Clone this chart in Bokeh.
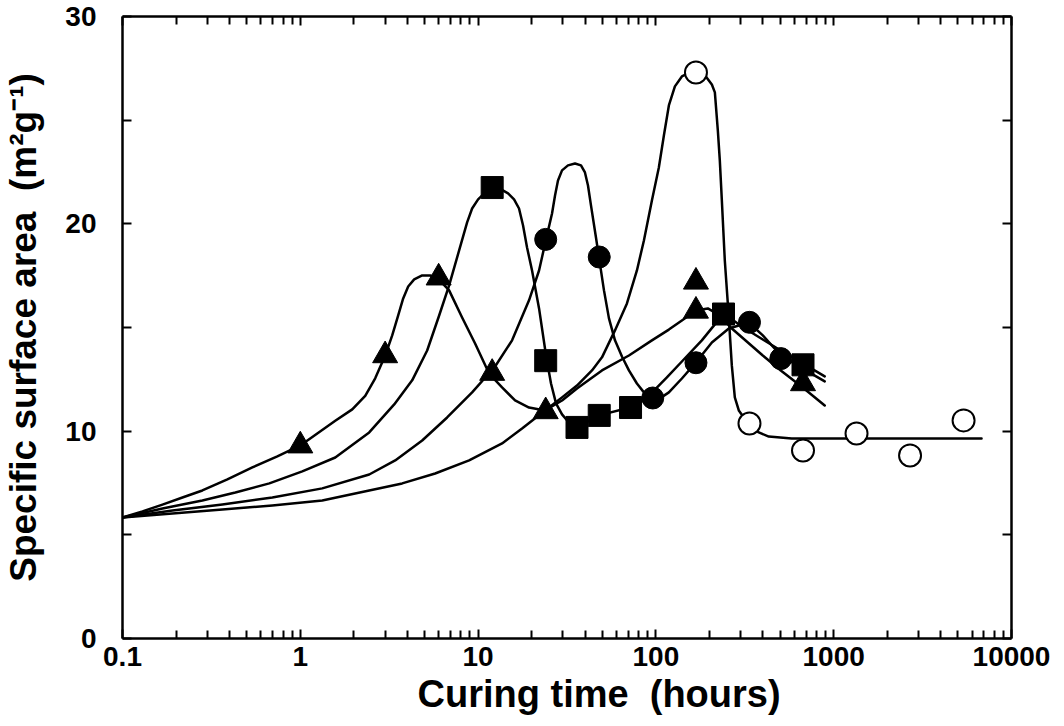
from bokeh.plotting import figure
from bokeh.models import FixedTicker, LogAxis, LinearAxis, CustomJSTickFormatter, Range1d, Title
from bokeh.embed import file_html
from bokeh.resources import INLINE

# ---- measured points ----
tri_x = [1, 3, 6, 12, 24, 168, 168, 672]
tri_y = [9.3, 13.65, 17.4, 12.8, 10.95, 17.2, 15.8, 12.3]

sq_x = [12, 24, 36, 48, 72, 240, 672]
sq_y = [21.75, 13.4, 10.18, 10.76, 11.14, 15.65, 13.2]

circ_x = [24, 48, 96, 168, 336, 504]
circ_y = [19.25, 18.4, 11.6, 13.3, 15.25, 13.5]

open_x = [168, 336, 672, 1344, 2688, 5376]
open_y = [27.3, 10.37, 9.07, 9.89, 8.83, 10.52]

# ---- fitted curves ----
T_x = [0.1, 0.1296, 0.1678, 0.2173, 0.2813, 0.3889, 0.5374, 0.7427, 1, 1.246, 1.573,
       1.960, 2.318, 2.638, 3.003, 3.288, 3.553, 3.790, 4.044, 4.370, 4.847, 5.375,
       5.885, 6.872, 8.130, 9.619, 11.53, 13.64, 16.14, 19.34, 23.79, 29.65, 35.99,
       49.74, 70.52, 94.96, 118.3, 140.0, 167.8, 196.0, 228.8, 267.3, 399.2, 503.9,
       669.7, 890.2]
T_y = [5.84, 6.13, 6.46, 6.80, 7.14, 7.67, 8.25, 8.78, 9.31, 9.89, 10.50,
       11.05, 11.70, 12.55, 13.65, 14.62, 15.58, 16.40, 16.98, 17.32, 17.51, 17.51,
       17.41, 16.79, 15.48, 14.23, 12.78, 12.11, 11.48, 11.14, 11.00, 11.48, 12.06,
       12.93, 13.65, 14.38, 14.90, 15.34, 15.82, 15.92, 15.58, 14.95, 13.65, 12.93,
       12.11, 11.24]

S_x = [0.1, 0.1678, 0.2813, 0.4313, 0.6697, 1.026, 1.573, 2.441, 3.374, 4.258, 5.170,
       6.039, 6.872, 7.822, 8.675, 9.254, 10.0, 10.95, 12.14, 13.47, 14.74, 15.93,
       16.99, 17.90, 18.85, 20.11, 22.02, 24.10, 25.71, 27.43, 29.65, 32.03, 35.99,
       47.85, 71.44, 83.43, 97.45, 115.3, 140.0, 181.3, 241.0, 304.2, 399.2, 503.9,
       669.7, 890.2]
S_y = [5.84, 6.27, 6.66, 7.04, 7.48, 8.06, 8.73, 9.94, 11.29, 12.45, 13.89,
       15.58, 17.03, 18.72, 20.07, 20.74, 21.18, 21.51, 21.71, 21.66, 21.47, 21.18,
       20.74, 19.92, 18.86, 17.75, 15.92, 13.65, 12.30, 11.34, 10.81, 10.47, 10.18,
       10.76, 11.14, 11.48, 11.96, 12.59, 13.36, 14.38, 15.68, 15.05, 14.42, 13.89,
       13.27, 12.64]

C_x = [0.1, 0.1910, 0.3645, 0.6962, 1.329, 2.441, 3.418, 4.847, 6.696, 9.254, 12.46,
       15.53, 19.34, 22.02, 24.10, 26.05, 27.08, 28.14, 29.65, 32.03, 35.07, 37.90,
       39.90, 41.50, 43.14, 46.02, 47.85, 51.05, 54.45, 58.86, 64.42, 70.52, 78.21,
       85.62, 94.96, 105.3, 118.3, 140.0, 167.8, 206.4, 257.1, 333.1, 399.2, 503.9,
       669.7, 890.2]
C_y = [5.84, 6.17, 6.46, 6.80, 7.24, 7.91, 8.59, 9.55, 10.66, 11.87, 13.12,
       14.38, 16.31, 17.75, 19.25, 20.50, 21.37, 22.09, 22.58, 22.82, 22.91, 22.82,
       22.48, 21.85, 20.89, 19.34, 18.38, 16.79, 15.44, 14.38, 13.60, 12.93, 12.30,
       11.87, 11.63, 11.58, 11.87, 12.54, 13.31, 14.28, 14.95, 15.24, 14.62, 13.65,
       13.02, 12.40]

O_x = [0.1, 0.1910, 0.3645, 0.6962, 1.329, 2.441, 3.741, 5.733, 8.902, 13.64, 17.67,
       23.79, 29.65, 35.99, 43.70, 49.74, 58.86, 68.73, 78.21, 85.62, 94.96, 103.9,
       110.9, 118.3, 127.9, 140.0, 155.2, 167.8, 190.9, 206.4, 214.6, 223.0, 228.8,
       234.9, 244.1, 257.1, 267.3, 277.9, 292.6, 333.1, 379.1, 431.3, 580.8, 6785]
O_y = [5.84, 6.03, 6.22, 6.42, 6.66, 7.14, 7.48, 7.96, 8.59, 9.41, 10.13,
       11.00, 11.63, 12.20, 12.93, 13.56, 14.86, 16.16, 17.75, 19.20, 21.13, 22.72,
       24.26, 25.71, 26.63, 27.11, 27.30, 27.30, 27.11, 26.72, 26.34, 24.51, 23.06,
       21.13, 18.23, 15.48, 13.17, 11.63, 11.00, 10.32, 9.94, 9.74, 9.65, 9.65]

x_major = [0.1, 1, 10, 100, 1000, 10000]
x_minor = [k * 10.0 ** e for e in range(-1, 4) for k in range(2, 10)]
y_major = [0, 10, 20, 30]
y_minor = [5, 15, 25]

x_label = "Curing time\u00a0\u00a0(hours)"
y_label = "Specific surface area\u00a0\u00a0(m²g⁻¹)"

FONT = "Liberation Sans"

p = figure(x_axis_type="log", x_range=Range1d(0.1, 10000), y_range=Range1d(0, 30),
           frame_width=889, frame_height=622, output_backend="svg", toolbar_location=None,
           min_border_left=120, min_border_right=40, min_border_top=16, min_border_bottom=40,
           background_fill_color="white", border_fill_color="white")
p.grid.visible = False
p.outline_line_color = None

bottom = p.below[0]
left = p.left[0]

xt = FixedTicker(ticks=x_major, minor_ticks=x_minor)
yt = FixedTicker(ticks=y_major, minor_ticks=y_minor)

top = LogAxis(ticker=xt)
right = LinearAxis(ticker=yt)
p.add_layout(top, "above")
p.add_layout(right, "right")

bottom.ticker = xt
bottom.formatter = CustomJSTickFormatter(code="return tick.toString();")
left.ticker = yt

for ax in [bottom, left, top, right]:
    ax.axis_line_width = 2.5
    ax.axis_line_color = "black"
    ax.major_tick_in = 9
    ax.major_tick_out = 0
    ax.minor_tick_in = 8
    ax.minor_tick_out = 0
    ax.major_tick_line_width = 2
    ax.minor_tick_line_width = 2
    ax.major_tick_line_color = "black"
    ax.minor_tick_line_color = "black"
    ax.major_label_text_font = FONT
    ax.major_label_text_font_style = "bold"
    ax.major_label_text_color = "black"
    ax.major_label_text_font_size = "28px"

for ax in [top, right]:
    ax.major_label_text_color = None
    ax.major_label_text_font_size = "1px"
    ax.major_label_standoff = 0

left.minor_tick_in = 9
right.minor_tick_in = 9

bottom.major_label_standoff = 8
left.major_label_standoff = 26

left.axis_label = y_label
left.axis_label_text_font = FONT
left.axis_label_text_font_style = "bold"
left.axis_label_text_font_size = "37px"
left.axis_label_text_color = "black"
left.axis_label_standoff = 18

xtitle = Title(text=x_label, align="left", offset=295, standoff=4,
               text_font=FONT, text_font_style="bold", text_font_size="38px",
               text_color="black")
p.add_layout(xtitle, "below")

lw = 2.5
for xs, ys in [(O_x, O_y), (C_x, C_y), (S_x, S_y), (T_x, T_y)]:
    p.line(xs, ys, line_width=lw, line_color="black", line_join="round", line_cap="round")

p.scatter(tri_x, tri_y, marker="triangle", size=25, fill_color="black", line_color="black")
p.scatter(sq_x, sq_y, marker="square", size=22, fill_color="black", line_color="black")
p.scatter(circ_x, circ_y, marker="circle", size=22, fill_color="black", line_color="black")
p.scatter(open_x, open_y, marker="circle", size=22, fill_color="white", line_color="black",
          line_width=2)

open("out.html", "w").write(file_html(p, INLINE))
